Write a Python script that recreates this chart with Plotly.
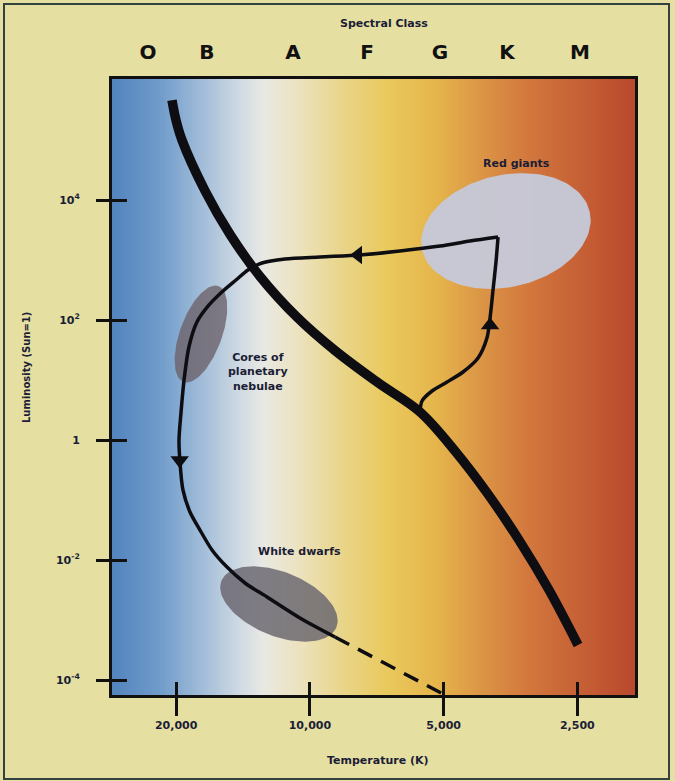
import numpy as np
import plotly.graph_objects as go

# ---------------- data ----------------
# Main sequence: temperature (K) and luminosity (Sun = 1)
ms_temp = [20440, 20020, 19410, 17230, 15130, 12950, 10690, 8780, 7026, 5650, 4713, 3974, 3383, 2895, 2491]
ms_lum = [4.6e5, 2.15e5, 1.0e5, 1.435e4, 2670, 533, 111.7, 31.0, 9.02, 2.93, 0.656, 0.126, 0.0215, 0.00316, 3.83e-4]

# Evolutionary track, part 1: main sequence -> red giant tip
rise_temp = [5650, 5592, 5310, 4912, 4522, 4183, 3994, 3930, 3870, 3811, 3771]
rise_lum = [2.93, 4.47, 6.56, 9.26, 13.6, 23.3, 50.1, 108, 316, 926, 2417]

# Evolutionary track, part 2: red giant tip -> planetary nebula core -> white dwarf
fall_temp = [3771, 4362, 5094, 6270, 7713, 9491, 11380, 12820, 13780, 14670, 15780, 16870,
             17960, 18720, 19200, 19510, 19710, 19610, 19310, 18620, 17680, 16610, 15370,
             14000, 12490, 10530, 8780]
fall_lum = [2417, 2074, 1711, 1413, 1212, 1122, 1039, 891, 681, 464, 293, 178,
            92.6, 35.5, 10, 2.82, 1, 0.43, 0.147, 0.0631, 0.0316, 0.0147, 0.00764,
            0.00414, 0.00242, 0.00108, 5.2e-4]

# White dwarf cooling (dashed)
cool_temp = [8780, 5050]
cool_lum = [5.2e-4, 6.0e-5]

# Direction arrows on the track
arrow_temp = [3930, 7794, 19640]
arrow_lum = [82, 1212, 0.46]
arrow_symbols = ["triangle-up", "triangle-left", "triangle-down"]

# Regions (ellipses) and their labels
region_names = ["Red giants", "Cores of<br>planetary<br>nebulae", "White dwarfs"]
region_temp = [3619, 17590, 11740]
region_lum = [3043, 58.4, 0.00185]
label_temp = [3418, 13090, 10580]
label_lum = [41400, 13.6, 0.0141]

# Axis ticks
temp_ticks = [20000, 10000, 5000, 2500]
temp_tick_labels = ["20,000", "10,000", "5,000", "2,500"]
lum_ticks = [1e4, 1e2, 1, 1e-2, 1e-4]
lum_tick_labels = ["10<sup>4</sup>", "10<sup>2</sup>", "1", "10<sup>-2</sup>", "10<sup>-4</sup>"]
spectral_classes = ["O", "B", "A", "F", "G", "K", "M"]
spectral_temp = [23140, 17050, 10910, 7435, 5094, 3600, 2466]

# ---------------- layout constants ----------------
W, H = 675, 781
MARG = dict(l=112, r=40, t=79, b=86)
PW = W - MARG["l"] - MARG["r"]
PH = H - MARG["t"] - MARG["b"]
X_RANGE = [4.4455, 3.2681]   # log10(T), reversed (hot on the left)
Y_RANGE = [-4.25, 6.017]     # log10(L)
PX_X = PW / abs(X_RANGE[0] - X_RANGE[1])
PX_Y = PH / (Y_RANGE[1] - Y_RANGE[0])

INK = "#1b1d36"
FONT = "DejaVu Sans, Liberation Sans, Arial, sans-serif"
BG = "#e6dfa2"

# ellipse styles: semi-axes in px, rotation in degrees, fill colour
ellipse_styles = [
    (86, 56, 13, "rgba(198,201,216,0.96)"),
    (51, 21, 70, "rgba(108,96,104,0.78)"),
    (62, 32, -22, "rgba(104,100,110,0.82)"),
]


def ellipse(tc, lc, a, b, ang):
    t = np.linspace(0, 2 * np.pi, 120)
    th = np.radians(ang)
    dx = a * np.cos(t) * np.cos(th) - b * np.sin(t) * np.sin(th)
    dy = a * np.cos(t) * np.sin(th) + b * np.sin(t) * np.cos(th)
    lt = np.log10(tc) - dx / PX_X
    ll = np.log10(lc) + dy / PX_Y
    return 10 ** lt, 10 ** ll


def px_to_paper(px, py):
    return (px - MARG["l"]) / PW, (H - MARG["b"] - py) / PH


fig = go.Figure()

# background temperature colour gradient (colour encodes log T)
edges = np.logspace(3.2, 4.5, 401)
zrow = np.log10(np.sqrt(edges[:-1] * edges[1:]))
grad_stops = [
    (0.00, "#5284bd"), (0.09, "#6f9bca"), (0.17, "#a0bcd9"), (0.245, "#d0dae3"),
    (0.29, "#e9e9e3"), (0.36, "#ece2bd"), (0.44, "#e9d58a"), (0.53, "#e9c95c"),
    (0.62, "#e5b54c"), (0.70, "#dc9846"), (0.80, "#d2773d"), (0.91, "#c45d34"),
    (1.00, "#b9492d"),
]
zmin, zmax = X_RANGE[1], X_RANGE[0]
colorscale = sorted([(1 - f, c) for f, c in grad_stops])
fig.add_trace(go.Heatmap(
    x=edges, y=[1e-6, 1e8], z=[zrow], zmin=zmin, zmax=zmax,
    colorscale=colorscale, showscale=False, hoverinfo="skip", zsmooth=False,
))

# ellipses
for tc, lc, (a, b, ang, col) in zip(region_temp, region_lum, ellipse_styles):
    ex, ey = ellipse(tc, lc, a, b, ang)
    fig.add_trace(go.Scatter(x=ex, y=ey, mode="lines", fill="toself", fillcolor=col,
                             line=dict(width=0), hoverinfo="skip", showlegend=False))

# main sequence
fig.add_trace(go.Scatter(x=ms_temp, y=ms_lum, mode="lines",
                         line=dict(color="#0d0d12", width=9.5, shape="spline", smoothing=1.0),
                         hoverinfo="skip", showlegend=False))
# evolutionary track
for tx, ly in ((rise_temp, rise_lum), (fall_temp, fall_lum)):
    fig.add_trace(go.Scatter(x=tx, y=ly, mode="lines",
                             line=dict(color="#0d0d12", width=3.5, shape="spline", smoothing=0.8),
                             hoverinfo="skip", showlegend=False))
fig.add_trace(go.Scatter(x=cool_temp, y=cool_lum, mode="lines",
                         line=dict(color="#0d0d12", width=3.5, dash="16px,10px"),
                         hoverinfo="skip", showlegend=False))
fig.add_trace(go.Scatter(x=arrow_temp, y=arrow_lum, mode="markers",
                         marker=dict(symbol=arrow_symbols, size=16, color="#0d0d12"),
                         hoverinfo="skip", showlegend=False))

# dummy traces for overlay axes (spectral class on top, inner tick halves)
fig.add_trace(go.Scatter(x=[5000], y=[1], xaxis="x2", yaxis="y", mode="markers",
                         marker=dict(opacity=0), hoverinfo="skip", showlegend=False))
fig.add_trace(go.Scatter(x=[5000], y=[1], xaxis="x3", yaxis="y2", mode="markers",
                         marker=dict(opacity=0), hoverinfo="skip", showlegend=False))

tickfont = dict(family=FONT, size=11, color=INK, weight="bold")

fig.update_layout(
    width=W, height=H, margin=MARG,
    paper_bgcolor=BG, plot_bgcolor=BG,
    showlegend=False,
    xaxis=dict(type="log", range=X_RANGE, tickvals=temp_ticks, ticktext=temp_tick_labels,
               ticks="outside", ticklen=18, tickwidth=3, tickcolor="#111",
               showline=True, linewidth=3, linecolor="#111", mirror=True,
               showgrid=False, zeroline=False, tickfont=tickfont, ticklabelstandoff=0),
    yaxis=dict(type="log", range=Y_RANGE, tickvals=lum_ticks, ticktext=lum_tick_labels,
               ticks="outside", ticklen=13, tickwidth=3, tickcolor="#111",
               showline=True, linewidth=3, linecolor="#111", mirror=True,
               showgrid=False, zeroline=False, tickfont=tickfont, ticklabelstandoff=14),
    xaxis2=dict(type="log", range=X_RANGE, overlaying="x", side="top", anchor="y",
                tickvals=spectral_temp, ticktext=spectral_classes, ticks="",
                showline=False, showgrid=False, zeroline=False, ticklabelstandoff=15,
                tickfont=dict(family=FONT, size=20, color="#111", weight="bold")),
    xaxis3=dict(type="log", range=X_RANGE, overlaying="x", side="bottom", anchor="y2",
                tickvals=temp_ticks, ticks="inside", ticklen=13, tickwidth=3, tickcolor="#111",
                showticklabels=False, showline=False, showgrid=False, zeroline=False),
    yaxis2=dict(type="log", range=Y_RANGE, overlaying="y", side="left", anchor="x3",
                tickvals=lum_ticks, ticks="inside", ticklen=15, tickwidth=3, tickcolor="#111",
                showticklabels=False, showline=False, showgrid=False, zeroline=False),
)

annots = []
for name, tx, ly in zip(region_names, label_temp, label_lum):
    annots.append(dict(x=np.log10(tx), y=np.log10(ly), xref="x", yref="y", text=f"<b>{name}</b>",
                       xanchor="center", yanchor="middle", showarrow=False,
                       font=dict(family=FONT, size=11, color=INK)))
for txt, (px, py), size, ang in (("Spectral Class", (384, 23), 11, 0),
                                  ("Temperature (K)", (378, 760), 11, 0),
                                  ("Luminosity (Sun=1)", (27, 368), 10, -90)):
    xp, yp = px_to_paper(px, py)
    annots.append(dict(x=xp, y=yp, xref="paper", yref="paper", text=f"<b>{txt}</b>",
                       xanchor="center", yanchor="middle", showarrow=False, textangle=ang,
                       font=dict(family=FONT, size=size, color=INK)))
fig.update_layout(annotations=annots)

# outer frame of the page
x0, y0 = px_to_paper(4, 779)
x1, y1 = px_to_paper(669, 4)
fig.add_shape(type="rect", xref="paper", yref="paper", x0=x0, x1=x1, y0=y0, y1=y1,
              line=dict(color="#34423f", width=2), layer="below")

fig.write_html("out.html", config={"displayModeBar": False},
               post_script="document.body.style.margin='0px';document.body.style.overflow='hidden';")
